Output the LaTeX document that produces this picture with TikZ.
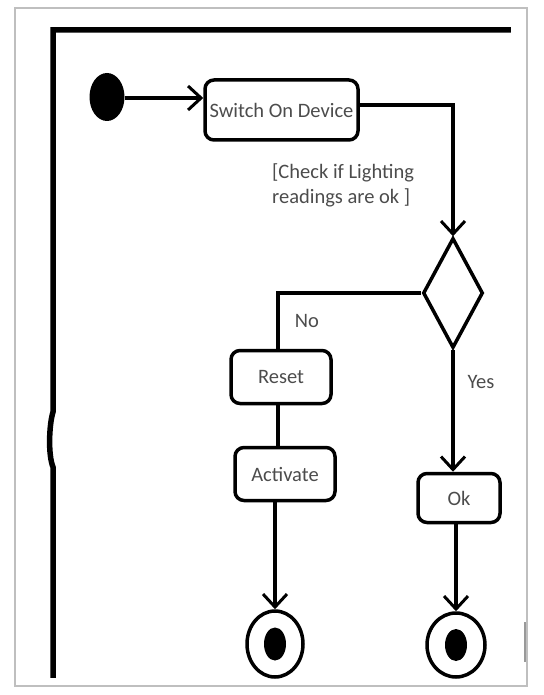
\documentclass[tikz,border=0pt]{standalone}
\usepackage{fontspec}
\setmainfont{Carlito}
\usetikzlibrary{shapes.geometric,arrows.meta}
\begin{document}
\begin{tikzpicture}[x=1pt,y=-1pt,
  act/.style={draw=black,line width=3.5pt,rounded corners=9pt,inner sep=0pt,font=\fontsize{20.5}{24}\selectfont,text=black!70},
  conn/.style={line width=3.5pt,draw=black},
  arr/.style={conn,-{Straight Barb[length=13pt,width=24pt,line width=3pt]}},
  lbl/.style={font=\fontsize{20.5}{25}\selectfont,text=black!70,inner sep=0pt}]
\useasboundingbox (0,0) rectangle (543,695);
% screenshot border
\draw[black!25,line width=1.5pt] (15,8) rectangle (527,686);
\draw[black!40,line width=1.5pt] (525,622) -- (525,662);
% frame
\draw[line width=5.5pt,line cap=rect] (508,30) -- (53,30) -- (53,412)
  .. controls (49,425) and (48,455) .. (53,467) -- (53,675);
% nodes
\node[ellipse,fill=black,minimum width=35pt,minimum height=48pt,inner sep=0pt] (init) at (107,97) {};
\node[act,minimum width=153pt,minimum height=60pt] (sw) at (281.5,110) {Switch On Device};
\node[diamond,draw=black,line width=3.5pt,minimum width=60pt,minimum height=110pt,inner sep=0pt] (dec) at (453,293) {};
\node[act,minimum width=100pt,minimum height=53pt] (reset) at (281,377) {Reset};
\node[act,minimum width=100pt,minimum height=53pt] (actv) at (285,474) {Activate};
\node[act,minimum width=82pt,minimum height=49pt] (ok) at (459,498) {Ok};
\node[ellipse,draw=black,line width=3.5pt,minimum width=56pt,minimum height=66pt,inner sep=0pt] (f1) at (275,644) {};
\node[ellipse,fill=black,minimum width=22pt,minimum height=33pt,inner sep=0pt] (f1in) at (275,644) {};
\node[ellipse,draw=black,line width=3.5pt,minimum width=58pt,minimum height=64pt,inner sep=0pt] (f2) at (456,645) {};
\node[ellipse,fill=black,minimum width=22pt,minimum height=32pt,inner sep=0pt] (f2in) at (456,645) {};
% labels
\node[lbl,anchor=north west,align=left] (guard) at (272,163) {[Check if Lighting\\readings are ok ]};
\node[lbl] (no) at (307,321) {No};
\node[lbl] (yes) at (481,382) {Yes};
% connectors
\draw[arr] (init.east |- 0,98) -- (sw.west |- 0,98);
\draw[arr] (sw.east |- 0,105) -| (dec.north);
\draw[conn] (dec.west) -| (278,0 |- reset.north);
\draw[conn] (278,0 |- reset.south) -- (278,0 |- actv.north);
\draw[arr] (275,0 |- actv.south) -- (f1.north);
\draw[arr] (dec.south) -- (dec.south |- ok.north);
\draw[arr] (ok.south -| f2.north) -- (f2.north);
\end{tikzpicture}
\end{document}
